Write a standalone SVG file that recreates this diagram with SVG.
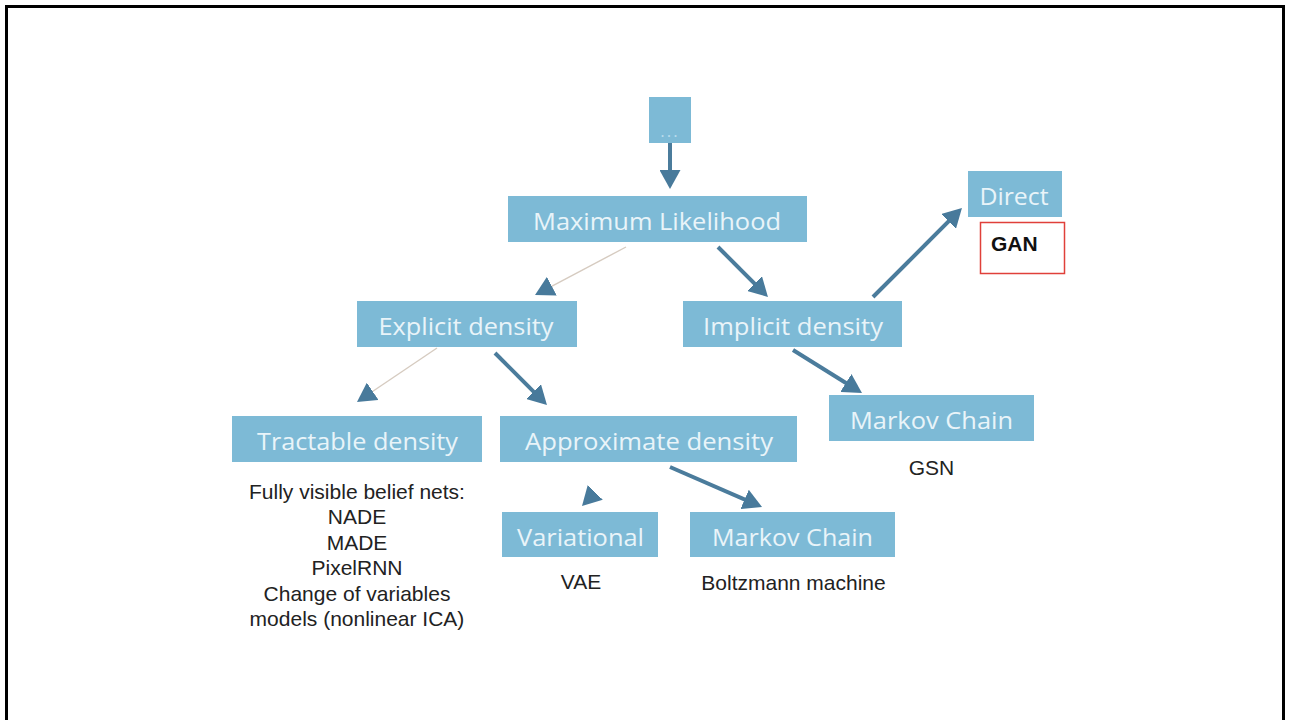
<svg xmlns="http://www.w3.org/2000/svg" width="1289" height="720" viewBox="0 0 1289 720">
<style>
.box{fill:#7dbad6}
.bt{font-family:"Open Sans","Noto Sans","DejaVu Sans",sans-serif;font-size:24px;fill:#e9f4f9;text-anchor:middle}
.lbl{font-family:"Liberation Sans",Arial,sans-serif;font-size:21px;fill:#222;text-anchor:middle}
.thick{stroke:#4b7c9c;stroke-width:4;fill:none;marker-end:url(#ah)}
.thin{stroke:#d6cbc0;stroke-width:1.4;fill:none;marker-end:url(#ah)}
.ghost{stroke:none;fill:none;marker-end:url(#ah)}
</style>
<defs>
<marker id="ah" markerUnits="userSpaceOnUse" viewBox="0 0 19 21" refX="11" refY="10.5" markerWidth="19" markerHeight="21" orient="auto">
<path d="M0,0 L19,10.5 L0,21 z" fill="#487a9b"/>
</marker>
</defs>
<rect width="1289" height="720" fill="#ffffff"/>
<path d="M6.5,720 V6.5 H1283.5 V720" fill="none" stroke="#000" stroke-width="3"/>

<g id="connectors">
<path class="thick" d="M670,143 L670,181"/>
<path class="thin" d="M626,247 L542.1,291.3"/>
<path class="thick" d="M718,247 L762.3,291.3"/>
<path class="thick" d="M873,297 L956.3,213.7"/>
<path class="thin" d="M437,348 L363.6,397.5"/>
<path class="thick" d="M495,353 L541.3,399.3"/>
<path class="thick" d="M793,350 L855.2,388.8"/>
<path class="thick" d="M670,467 L754.7,503.8"/>
<path class="ghost" d="M620,467 L587.6,500.3"/>
</g>

<g id="node-dots">
<rect class="box" x="649" y="97" width="42" height="46"/>
<text x="670" y="137" style="font-family:'Open Sans',sans-serif;font-size:17px;fill:#b9dced;text-anchor:middle;letter-spacing:2px">...</text>
</g>
<g id="node-ml">
<rect class="box" x="508" y="196" width="299" height="46"/>
<text class="bt" x="657" y="230" textLength="248" lengthAdjust="spacingAndGlyphs">Maximum Likelihood</text>
</g>
<g id="node-direct">
<rect class="box" x="968" y="171" width="94" height="46"/>
<text class="bt" x="1014" y="205" textLength="69" lengthAdjust="spacingAndGlyphs">Direct</text>
</g>
<g id="node-gan">
<rect x="980.5" y="222.5" width="84" height="51" fill="#fff" stroke="#e0403a" stroke-width="1.5"/>
<text x="991" y="251" style="font-family:'Liberation Sans',Arial,sans-serif;font-size:21px;font-weight:bold;fill:#111">GAN</text>
</g>
<g id="node-explicit">
<rect class="box" x="357" y="301" width="220" height="46"/>
<text class="bt" x="466" y="335" textLength="175" lengthAdjust="spacingAndGlyphs">Explicit density</text>
</g>
<g id="node-implicit">
<rect class="box" x="683" y="301" width="219" height="46"/>
<text class="bt" x="793" y="335" textLength="180" lengthAdjust="spacingAndGlyphs">Implicit density</text>
</g>
<g id="node-tractable">
<rect class="box" x="232" y="416" width="250" height="46"/>
<text class="bt" x="357.5" y="450" textLength="201" lengthAdjust="spacingAndGlyphs">Tractable density</text>
</g>
<g id="node-approx">
<rect class="box" x="500" y="416" width="297" height="46"/>
<text class="bt" x="649" y="450" textLength="248" lengthAdjust="spacingAndGlyphs">Approximate density</text>
</g>
<g id="node-markov-gsn">
<rect class="box" x="829" y="395" width="205" height="46"/>
<text class="bt" x="931.5" y="429" textLength="163" lengthAdjust="spacingAndGlyphs">Markov Chain</text>
</g>
<g id="node-variational">
<rect class="box" x="502" y="512" width="156" height="45"/>
<text class="bt" x="580.5" y="546" textLength="127" lengthAdjust="spacingAndGlyphs">Variational</text>
</g>
<g id="node-markov-bm">
<rect class="box" x="690" y="512" width="205" height="45"/>
<text class="bt" x="792.5" y="546" textLength="161" lengthAdjust="spacingAndGlyphs">Markov Chain</text>
</g>

<g id="labels">
<text class="lbl" x="931.5" y="475">GSN</text>
<text class="lbl" x="581" y="589">VAE</text>
<text class="lbl" x="793.5" y="590">Boltzmann machine</text>
<text class="lbl" x="357" y="499">Fully visible belief nets:</text>
<text class="lbl" x="357" y="524">NADE</text>
<text class="lbl" x="357" y="550">MADE</text>
<text class="lbl" x="357" y="575">PixelRNN</text>
<text class="lbl" x="357" y="601">Change of variables</text>
<text class="lbl" x="357" y="626">models (nonlinear ICA)</text>
</g>
</svg>
